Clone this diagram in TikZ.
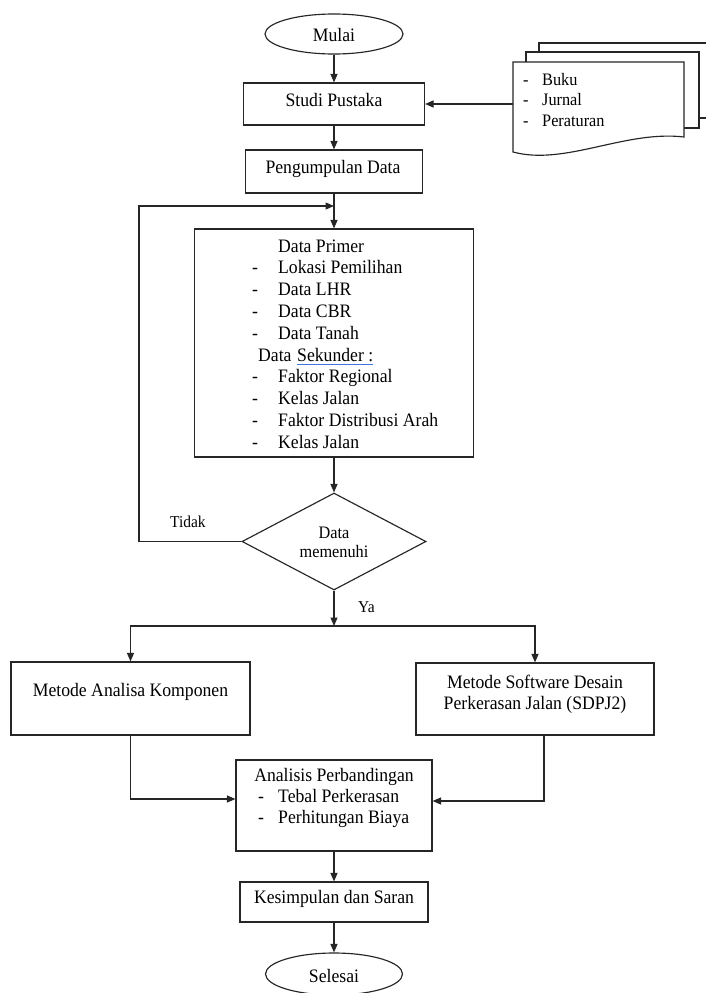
\documentclass[tikz,border=0pt]{standalone}
\usepackage{fontspec}
\setmainfont{Liberation Serif}[FakeStretch=0.93]
\usetikzlibrary{shapes.geometric,arrows.meta}
\definecolor{ulblue}{RGB}{60,115,225}
\begin{document}
\begin{tikzpicture}[x=1pt,y=-1pt,
  ln/.style={line width=1.15pt,draw=black!85},
  arr/.style={ln,-{Triangle[length=8.5pt,width=7pt]}},
  box/.style={draw,ln,rectangle,inner sep=0pt},
  term/.style={draw,ln,ellipse,inner sep=0pt},
  mf/.style={font=\fontsize{19}{21.7}\selectfont},
  lbl/.style={mf,anchor=base west,inner sep=0pt},
  ctr/.style={mf,anchor=base,inner sep=0pt},
  dl/.style={font=\fontsize{17.5}{20}\selectfont,anchor=base west,inner sep=0pt},
  sm/.style={font=\fontsize{17.5}{20}\selectfont,anchor=base,inner sep=0pt},
  tl/.style={font=\fontsize{16.6}{20}\selectfont,anchor=base west,inner sep=0pt}]
\useasboundingbox (0,0) rectangle (706,993);
\fill[white] (0,0) rectangle (706,993);

% shapes
\node[term,minimum width=138pt,minimum height=40pt] (mulai) at (334,34) {};
\node[box,minimum width=181pt,minimum height=42pt] (studi) at (334,104) {};
\node[box,minimum width=177pt,minimum height=43pt] (kumpul) at (334,171.5) {};
\node[box,minimum width=279pt,minimum height=228pt] (data) at (334,343) {};
\node[draw,ln,diamond,inner sep=0pt,minimum width=184pt,minimum height=97pt] (dec) at (334,541.5) {};
\node[box,minimum width=239pt,minimum height=73pt] (mak) at (130.5,698.5) {};
\node[box,minimum width=238pt,minimum height=72pt] (sdp) at (535,699) {};
\node[box,minimum width=196pt,minimum height=91pt] (anal) at (334,805.5) {};
\node[box,minimum width=188pt,minimum height=40pt] (kes) at (334,902) {};
\node[term,minimum width=137pt,minimum height=42pt] (sel) at (334,974) {};

% document stack
\begin{scope}
\clip (0,0) rectangle (706,993);
\draw[ln,fill=white] (539,43) rectangle (730,118);
\draw[ln,fill=white] (526,52) rectangle (699,128);
\end{scope}
\draw[ln,fill=white] (513,62) -- (684,62) -- (684,137) .. controls (625,130) and (565,166) .. (513,152) -- cycle;
\coordinate (docw) at (513,104);

% texts
\node[ctr] (tmulai) at (334,41) {Mulai};
\node[ctr] (tstudi) at (334,106.5) {Studi Pustaka};
\node[ctr] (tkumpul) at (333,173) {Pengumpulan Data};
\foreach \t [count=\i] in {Buku,Jurnal,Peraturan} {
  \node[dl] (bd\i) at (523,{85+20.8*(\i-1)}) {-};
  \node[dl] (bt\i) at (542,{85+20.8*(\i-1)}) {\t};
}
\node[lbl] (dp) at (278,252) {Data Primer};
\foreach \t [count=\i] in {Lokasi Pemilihan,Data LHR,Data CBR,Data Tanah} {
  \node[lbl] (pd\i) at (252,{252+21.8*\i}) {-};
  \node[lbl] (pt\i) at (278,{252+21.8*\i}) {\t};
}
\node[lbl] (ds) at (258,361) {Data};
\node[lbl] (dsk) at (297,361) {Sekunder :};
\draw[ulblue,line width=1pt] ([yshift=-3pt]dsk.base west) -- ([yshift=-3pt]dsk.base east);
\foreach \t [count=\i from 6] in {Faktor Regional,Kelas Jalan,Faktor Distribusi Arah,Kelas Jalan} {
  \node[lbl] (sd\i) at (252,{252+21.8*\i}) {-};
  \node[lbl] (st\i) at (278,{252+21.8*\i}) {\t};
}
\node[sm] (decA) at (334,538) {Data};
\node[sm] (decB) at (334,557) {memenuhi};
\node[tl] (tidak) at (170,527) {Tidak};
\node[tl] (ya) at (358,612) {Ya};
\node[ctr] (makt) at (130.5,696) {Metode Analisa Komponen};
\node[ctr] (sdt1) at (535,688) {Metode Software Desain};
\node[ctr] (sdt2) at (535,709) {Perkerasan Jalan (SDPJ2)};
\node[ctr] (at1) at (334,781) {Analisis Perbandingan};
\node[lbl] (ad1) at (258,802) {-};
\node[lbl] (ax1) at (278,802) {Tebal Perkerasan};
\node[lbl] (ad2) at (258,823) {-};
\node[lbl] (ax2) at (278,823) {Perhitungan Biaya};
\node[ctr] (kest) at (334,903) {Kesimpulan dan Saran};
\node[ctr] (selt) at (334,982) {Selesai};

% connectors
\coordinate (j1) at (334,206);
\coordinate (fb) at (139,206);
\coordinate (split) at (334,626);
\coordinate (lsp) at (130.5,626);
\coordinate (rsp) at (535,626);
\draw[arr] (mulai) -- (studi);
\draw[arr] (docw) -- (studi.east);
\draw[arr] (studi) -- (kumpul);
\draw[arr] (kumpul) -- (data);
\draw[arr] (dec.west) -| (fb) -- (j1);
\draw[arr] (data) -- (dec);
\draw[arr] (dec) -- (split);
\draw[ln,line cap=rect] (lsp) -- (rsp);
\draw[arr] (lsp) -- (mak);
\draw[arr] (rsp) -- (sdp);
\draw[arr] (mak.south) |- ([yshift=6.5pt]anal.west);
\draw[arr] ([xshift=9pt]sdp.south) |- ([yshift=4.5pt]anal.east);
\draw[arr] (anal) -- (kes);
\draw[arr] (kes) -- (sel);
\end{tikzpicture}
\end{document}
